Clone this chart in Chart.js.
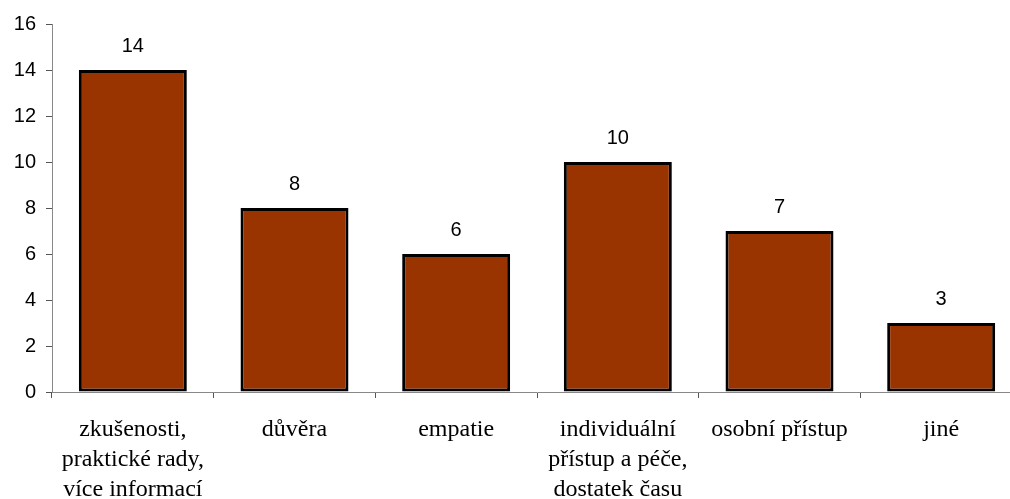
<!DOCTYPE html>
<html>
<head>
<meta charset="utf-8">
<script src="https://cdn.jsdelivr.net/npm/chart.js@4/dist/chart.umd.min.js"></script>
<style>
  html, body { margin: 0; padding: 0; background: #fff; overflow: hidden; }
  #wrap { width: 1010px; height: 499px; overflow: hidden; }
  canvas { display: block; }
</style>
</head>
<body>
<div id="wrap"><canvas id="c" width="1040" height="499"></canvas></div>
<script>
// Categories (multi-line labels) and counts
const categories = [
  ['zkušenosti,', 'praktické rady,', 'více informací'],
  'důvěra',
  'empatie',
  ['individuální', 'přístup a péče,', 'dostatek času'],
  'osobní přístup',
  'jiné'
];
const counts = [14, 8, 6, 10, 7, 3];
const yTicks = [0, 2, 4, 6, 8, 10, 12, 14, 16];

const sansFont = 'Liberation Sans, Arial, sans-serif';
const serifFont = 'Liberation Serif, Times New Roman, serif';

// Writes each bar's value above it
const valueLabels = {
  id: 'valueLabels',
  afterDatasetsDraw(chart) {
    const ctx = chart.ctx;
    const meta = chart.getDatasetMeta(0);
    ctx.save();
    ctx.font = '20px ' + sansFont;
    ctx.fillStyle = '#000';
    ctx.textAlign = 'center';
    ctx.textBaseline = 'middle';
    meta.data.forEach((bar, i) => {
      ctx.fillText(String(counts[i]), bar.x, bar.y - 24);
    });
    ctx.restore();
  }
};

new Chart(document.getElementById('c'), {
  type: 'bar',
  data: {
    labels: categories,
    datasets: [{
      data: counts,
      backgroundColor: '#993300',
      borderColor: '#000000',
      borderWidth: 3,
      borderSkipped: false,
      categoryPercentage: 1.0,
      barPercentage: 0.668
    }]
  },
  options: {
    responsive: false,
    animation: false,
    devicePixelRatio: 1,
    layout: { padding: { top: 24, right: 18, left: 0, bottom: 0 } },
    plugins: { legend: { display: false }, tooltip: { enabled: false } },
    scales: {
      x: {
        offset: true,
        grid: {
          display: true,
          offset: true,
          drawOnChartArea: false,
          drawTicks: true,
          tickLength: 6,
          color: '#555'
        },
        border: { display: true, color: '#888', width: 1 },
        ticks: {
          color: '#000',
          font: { family: serifFont, size: 24, lineHeight: 1.25 },
          padding: 17,
          maxRotation: 0,
          autoSkip: false
        },
        afterFit(scale) { scale.height = 107; }
      },
      y: {
        min: 0,
        max: 16,
        afterBuildTicks(scale) { scale.ticks = yTicks.map(v => ({ value: v })); },
        grid: {
          display: true,
          drawOnChartArea: false,
          drawTicks: true,
          tickLength: 6,
          color: '#555'
        },
        border: { display: true, color: '#888', width: 1 },
        ticks: {
          color: '#000',
          font: { family: sansFont, size: 20 },
          padding: 10
        },
        afterFit(scale) { scale.width = 52; }
      }
    }
  },
  plugins: [valueLabels]
});
</script>
</body>
</html>
